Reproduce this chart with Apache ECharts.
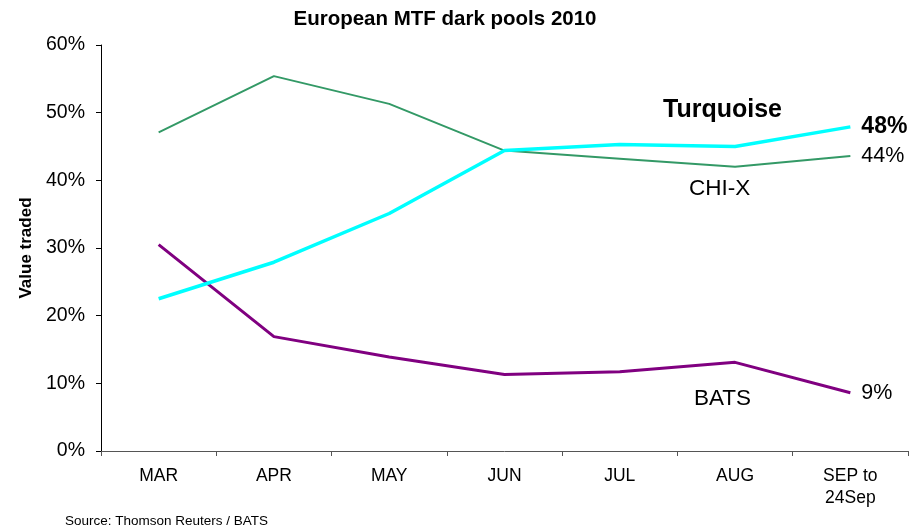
<!DOCTYPE html>
<html>
<head>
<meta charset="utf-8">
<script src="https://cdn.jsdelivr.net/npm/echarts@6/dist/echarts.min.js"></script>
<style>
html,body{margin:0;padding:0;background:#fff;}
#chart{width:910px;height:528px;}
</style>
</head>
<body>
<div id="chart"></div>
<script>
var categories = ['MAR', 'APR', 'MAY', 'JUN', 'JUL', 'AUG', 'SEP to\n24Sep'];
var chixValues = [47.1, 55.4, 51.3, 44.4, 43.2, 42.0, 43.6];
var turquoiseValues = [22.5, 27.9, 35.1, 44.4, 45.3, 45.0, 47.9];
var batsValues = [30.5, 16.9, 13.9, 11.3, 11.7, 13.1, 8.6];
var yTicks = [0, 10, 20, 30, 40, 50, 60];

var FONT = '"Liberation Sans", Arial, sans-serif';
var chart = echarts.init(document.getElementById('chart'), null, {renderer: 'canvas'});

function endLbl(bold, size) {
  return {
    show: true,
    distance: 11,
    fontFamily: FONT,
    fontSize: size,
    fontWeight: bold ? 'bold' : 'normal',
    color: '#000',
    formatter: function (p) { return Math.round(p.value) + '%'; }
  };
}

chart.setOption({
  animation: false,
  backgroundColor: '#fff',
  title: {
    text: 'European MTF dark pools 2010',
    left: 440, textAlign: 'center', top: 4,
    textStyle: {fontFamily: FONT, fontSize: 20.5, fontWeight: 'bold', color: '#000'}
  },
  grid: {left: 101, right: 2, top: 45, bottom: 77, containLabel: false},
  xAxis: {
    type: 'category',
    data: categories,
    boundaryGap: true,
    axisLine: {lineStyle: {color: '#555', width: 1}},
    axisTick: {show: true, inside: false, length: 5, alignWithLabel: false, lineStyle: {color: '#555'}},
    axisLabel: {fontFamily: FONT, fontSize: 17.5, color: '#000', margin: 14, lineHeight: 22, interval: 0},
    splitLine: {show: false}
  },
  yAxis: {
    type: 'value',
    min: yTicks[0], max: yTicks[yTicks.length - 1], interval: 10,
    name: 'Value traded',
    nameLocation: 'middle',
    nameGap: 65,
    nameRotate: 90,
    nameTextStyle: {fontFamily: FONT, fontSize: 17, fontWeight: 'bold', color: '#000'},
    axisLine: {show: true, lineStyle: {color: '#000', width: 1}},
    axisTick: {show: true, inside: false, length: 5, lineStyle: {color: '#000'}},
    axisLabel: {fontFamily: FONT, fontSize: 19.5, color: '#000', margin: 16, formatter: '{value}%'},
    splitLine: {show: false}
  },
  series: [
    {
      name: 'CHI-X', type: 'line', data: chixValues,
      symbol: 'none', lineStyle: {color: '#339966', width: 2},
      endLabel: endLbl(false, 21.5), z: 2
    },
    {
      name: 'Turquoise', type: 'line', data: turquoiseValues,
      symbol: 'none', lineStyle: {color: '#00FFFF', width: 3.5},
      endLabel: endLbl(true, 23), z: 3
    },
    {
      name: 'BATS', type: 'line', data: batsValues,
      symbol: 'none', lineStyle: {color: '#800080', width: 3},
      endLabel: endLbl(false, 21.5), z: 2
    }
  ],
  graphic: [
    {type: 'text', x: 663, y: 110, style: {text: 'Turquoise', fontFamily: FONT, fontSize: 25, fontWeight: 'bold', fill: '#000', align: 'left', verticalAlign: 'middle'}},
    {type: 'text', x: 689, y: 189, style: {text: 'CHI-X', fontFamily: FONT, fontSize: 22.5, fill: '#000', align: 'left', verticalAlign: 'middle'}},
    {type: 'text', x: 694, y: 399, style: {text: 'BATS', fontFamily: FONT, fontSize: 22.5, fill: '#000', align: 'left', verticalAlign: 'middle'}},
    {type: 'text', x: 65, y: 521, style: {text: 'Source: Thomson Reuters / BATS', fontFamily: FONT, fontSize: 13.5, fill: '#000', align: 'left', verticalAlign: 'middle'}}
  ]
});
</script>
</body>
</html>
